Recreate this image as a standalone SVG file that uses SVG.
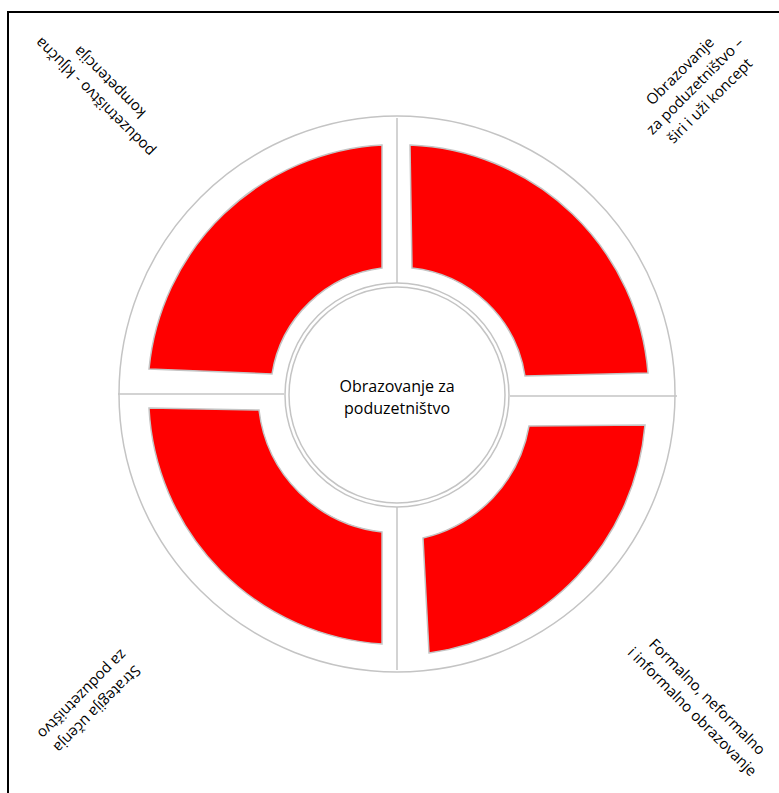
<svg xmlns="http://www.w3.org/2000/svg" width="779" height="793" viewBox="0 0 779 793">
<style>
.g{fill:none;stroke:#c4c4c4;stroke-width:1.5}
.seg{fill:#ff0000;stroke:#c4c4c4;stroke-width:1.5}
.t{font-family:"Open Sans","Liberation Sans",sans-serif;font-size:15px;fill:#000;text-anchor:middle}
.c{font-size:16px}
</style>
<rect width="779" height="793" fill="#fff"/>
<rect x="8" y="12" width="800" height="800" fill="none" stroke="#000" stroke-width="2"/>
<g id="connectors">
<circle class="g" cx="397" cy="394" r="278"/>
<line class="g" x1="397" y1="118" x2="397" y2="283"/>
<line class="g" x1="397" y1="506" x2="397" y2="670"/>
<line class="g" x1="118" y1="394" x2="284" y2="394"/>
<line class="g" x1="510" y1="396" x2="677" y2="396"/>
</g>
<g id="seg-top-left">
<path class="seg" d="M149,369 A248,248 0 0 1 382,145 L382,268 A127,127 0 0 0 272,374 Z"/>
</g>
<g id="seg-top-right">
<path class="seg" d="M410,145 A248,248 0 0 1 648,373 L525,376 A128,128 0 0 0 412,268 Z"/>
</g>
<g id="seg-bottom-left">
<path class="seg" d="M149,408 L259,410 A139,139 0 0 0 382,532 L382,644 A249,249 0 0 1 149,408 Z"/>
</g>
<g id="seg-bottom-right">
<path class="seg" d="M529,426 L645,425 A252,252 0 0 1 429,653 L423,538 A140,140 0 0 0 529,426 Z"/>
</g>
<g id="center">
<circle cx="397" cy="395" r="112" fill="#fff" stroke="#c4c4c4" stroke-width="1.5"/>
<circle cx="397" cy="395" r="108" fill="#fff" stroke="#c4c4c4" stroke-width="1.5"/>
<text class="t c" x="397" y="392">Obrazovanje za</text>
<text class="t c" x="397" y="414">poduzetništvo</text>
</g>
<g id="label-top-right" transform="translate(695,86) rotate(-45)">
<text class="t" x="0" y="-16">Obrazovanje</text>
<text class="t" x="0" y="5">za poduzetništvo –</text>
<text class="t" x="0" y="26">širi i uži koncept</text>
</g>
<g id="label-top-left" transform="translate(102,90) rotate(225)">
<text class="t" x="0" y="-5">poduzetništvo - ključna</text>
<text class="t" x="0" y="16">kompetencija</text>
</g>
<g id="label-bottom-left" transform="translate(90,702) rotate(135)">
<text class="t" x="0" y="-5">Strategija učenja</text>
<text class="t" x="0" y="16">za poduzetništvo</text>
</g>
<g id="label-bottom-right" transform="translate(700,704) rotate(45)">
<text class="t" x="0" y="-5">Formalno, neformalno</text>
<text class="t" x="0" y="16">i informalno obrazovanje</text>
</g>
</svg>
